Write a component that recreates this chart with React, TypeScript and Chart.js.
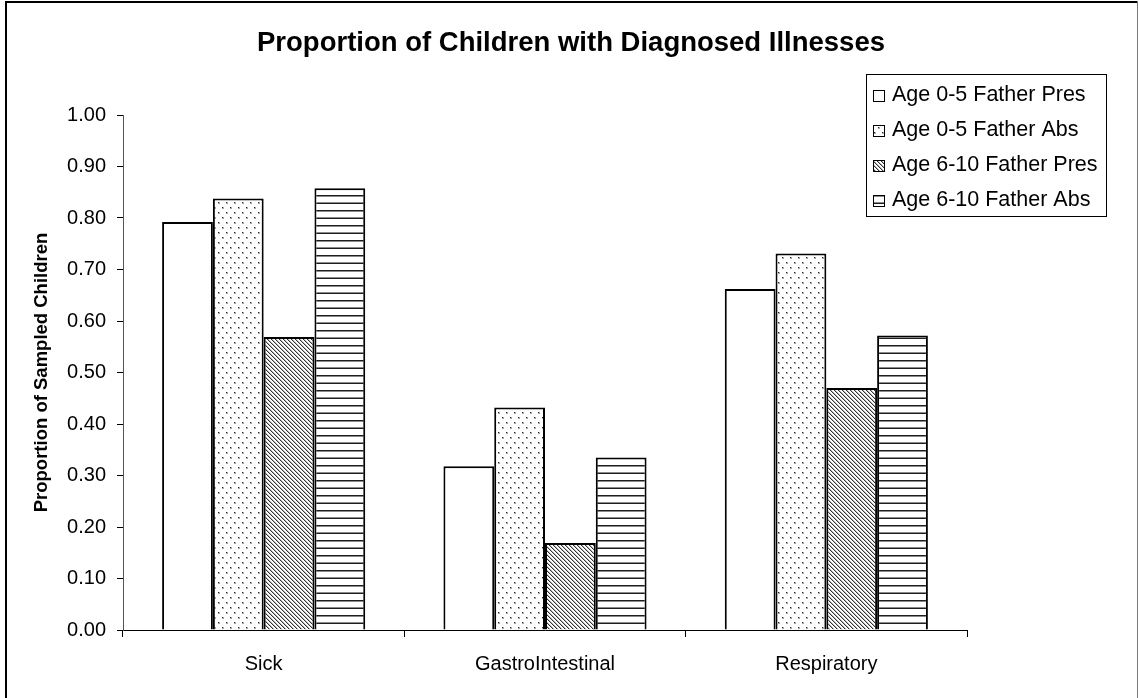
import { useEffect, useRef } from "react";
import { Chart, registerables } from "chart.js";

Chart.register(...registerables);

// Illness categories along the x axis
const categories = ["Sick", "GastroIntestinal", "Respiratory"];

// Series names (legend order)
const seriesNames = [
  "Age 0-5 Father Pres",
  "Age 0-5 Father Abs",
  "Age 6-10 Father Pres",
  "Age 6-10 Father Abs",
];

// Proportion of sampled children per category, one array per series
const age05FatherPres = [0.792, 0.318, 0.662];
const age05FatherAbs = [0.838, 0.432, 0.731];
const age610FatherPres = [0.569, 0.169, 0.47];
const age610FatherAbs = [0.858, 0.335, 0.572];

// Y axis tick values
const yTickValues = [0, 0.1, 0.2, 0.3, 0.4, 0.5, 0.6, 0.7, 0.8, 0.9, 1.0];

const chartTitle = "Proportion of Children with Diagnosed Illnesses";
const yAxisTitle = "Proportion of Sampled Children";

const FONT = '"Liberation Sans", Arial, Helvetica, sans-serif';

function makeTile(w: number, h: number, draw: (c: CanvasRenderingContext2D) => void) {
  const cv = document.createElement("canvas");
  cv.width = w;
  cv.height = h;
  const c = cv.getContext("2d")!;
  c.fillStyle = "#ffffff";
  c.fillRect(0, 0, w, h);
  draw(c);
  return cv;
}

function buildFills(ctx: CanvasRenderingContext2D) {
  // plain white
  const white = "#ffffff";

  // sparse staggered dots
  const dot = (c: CanvasRenderingContext2D, x: number, y: number) => {
    c.fillStyle = "#a8a8a8";
    c.fillRect(x, y, 2, 2);
    c.fillStyle = "#2a2a2a";
    c.fillRect(x, y, 1, 1);
  };
  const dots = ctx.createPattern(
    makeTile(8, 10, (c) => {
      dot(c, 2, 2);
      dot(c, 6, 7);
    }),
    "repeat"
  )!;

  // dense diagonal hatch running top-left to bottom-right
  const diag = ctx.createPattern(
    makeTile(4, 4, (c) => {
      for (let y = 0; y < 4; y++) {
        for (let x = 0; x < 4; x++) {
          const k = (((x - y) % 4) + 4) % 4;
          if (k === 0) {
            c.fillStyle = "#333333";
            c.fillRect(x, y, 1, 1);
          } else if (k === 1) {
            c.fillStyle = "#b8b8b8";
            c.fillRect(x, y, 1, 1);
          }
        }
      }
    }),
    "repeat"
  )!;

  // horizontal stripes
  const stripes = ctx.createPattern(
    makeTile(8, 15, (c) => {
      c.fillStyle = "#1e1e1e";
      c.fillRect(0, 0, 8, 1);
      c.fillStyle = "#8a8a8a";
      c.fillRect(0, 1, 8, 1);
      c.fillStyle = "#1e1e1e";
      c.fillRect(0, 8, 8, 1);
      c.fillStyle = "#8a8a8a";
      c.fillRect(0, 7, 8, 1);
    }),
    "repeat"
  )!;

  return [white, dots, diag, stripes];
}

export default function App() {
  const canvasRef = useRef<HTMLCanvasElement | null>(null);

  useEffect(() => {
    document.body.style.margin = "0";
    const canvas = canvasRef.current;
    if (!canvas) return;
    const ctx = canvas.getContext("2d")!;
    const fills = buildFills(ctx);

    const seriesValues = [age05FatherPres, age05FatherAbs, age610FatherPres, age610FatherAbs];

    // white page with the outer frame
    const framePlugin = {
      id: "frame",
      beforeDraw(chart: Chart) {
        const c = chart.ctx;
        c.save();
        c.fillStyle = "#ffffff";
        c.fillRect(0, 0, chart.width, chart.height);
        c.fillStyle = "#000000";
        c.fillRect(5, 1, 2, chart.height);
        c.fillRect(5, 1, 1132, 2);
        c.fillStyle = "#7a7a7a";
        c.fillRect(1137, 1, 1, chart.height);
        c.restore();
      },
    };

    // chart heading
    const headingPlugin = {
      id: "heading",
      afterDraw(chart: Chart) {
        const c = chart.ctx;
        c.save();
        c.fillStyle = "#000000";
        c.font = `bold 27.5px ${FONT}`;
        c.textAlign = "center";
        c.textBaseline = "middle";
        c.fillText(chartTitle, 571, 43);
        c.restore();
      },
    };

    // boxed legend in the upper right of the plot
    const legendBoxPlugin = {
      id: "legendBox",
      afterDraw(chart: Chart) {
        const c = chart.ctx;
        const left = 866;
        const top = 74;
        const w = 240;
        const h = 142;
        c.save();
        c.fillStyle = "#ffffff";
        c.fillRect(left, top, w, h);
        c.strokeStyle = "#000000";
        c.lineWidth = 1;
        c.strokeRect(left + 0.5, top + 0.5, w, h);
        c.font = `21.5px ${FONT}`;
        c.textBaseline = "middle";
        c.textAlign = "left";
        chart.data.datasets.forEach((ds, i) => {
          const cy = 95 + i * 35;
          const bx = 873;
          const by = Math.round(cy - 5);
          c.fillStyle = ds.backgroundColor as any;
          c.fillRect(bx, by, 11, 11);
          c.strokeStyle = "#000000";
          c.lineWidth = 1;
          c.strokeRect(bx + 0.5, by + 0.5, 11, 11);
          c.fillStyle = "#000000";
          c.fillText(String(ds.label), 892, cy);
        });
        c.restore();
      },
    };

    const chart = new Chart(canvas, {
      type: "bar",
      data: {
        labels: categories,
        datasets: seriesNames.map((name, i) => ({
          label: name,
          data: seriesValues[i],
          backgroundColor: fills[i] as any,
          borderColor: "#000000",
          borderWidth: 2,
          borderSkipped: "start",
          categoryPercentage: 0.722,
          barPercentage: 1.0,
        })),
      },
      options: {
        responsive: false,
        animation: false,
        devicePixelRatio: 1,
        layout: { padding: { top: 115, right: 172, bottom: 0, left: 0 } },
        plugins: {
          legend: { display: false },
          title: { display: false },
          tooltip: { enabled: false },
        },
        scales: {
          x: {
            afterFit: (s: any) => {
              s.height = 68;
            },
            grid: {
              offset: true,
              drawOnChartArea: false,
              drawTicks: true,
              tickLength: 7,
              tickColor: "#000000",
              lineWidth: 1,
            },
            border: { display: true, color: "#000000", width: 1 },
            ticks: {
              color: "#000000",
              font: { family: FONT, size: 20 },
              padding: 15,
              maxRotation: 0,
              autoSkip: false,
            },
          },
          y: {
            min: 0,
            max: 1,
            afterFit: (s: any) => {
              s.width = 123;
            },
            afterBuildTicks: (s: any) => {
              s.ticks = yTickValues.map((v) => ({ value: v }));
            },
            grid: {
              drawOnChartArea: false,
              drawTicks: true,
              tickLength: 6,
              tickColor: "#000000",
              lineWidth: 1,
            },
            border: { display: true, color: "#555555", width: 1 },
            ticks: {
              color: "#000000",
              font: { family: FONT, size: 20 },
              padding: 11,
              callback: (v: any) => Number(v).toFixed(2),
            },
            title: {
              display: true,
              text: yAxisTitle,
              color: "#000000",
              font: { family: FONT, size: 18.5, weight: "bold" },
              padding: { top: 31, bottom: 0 },
            },
          },
        },
      },
      plugins: [framePlugin, headingPlugin, legendBoxPlugin],
    });

    return () => {
      chart.destroy();
    };
  }, []);

  return (
    <div style={{ position: "absolute", left: 0, top: 0, width: 1139, height: 698 }}>
      <canvas ref={canvasRef} width={1139} height={698} style={{ display: "block" }} />
    </div>
  );
}
